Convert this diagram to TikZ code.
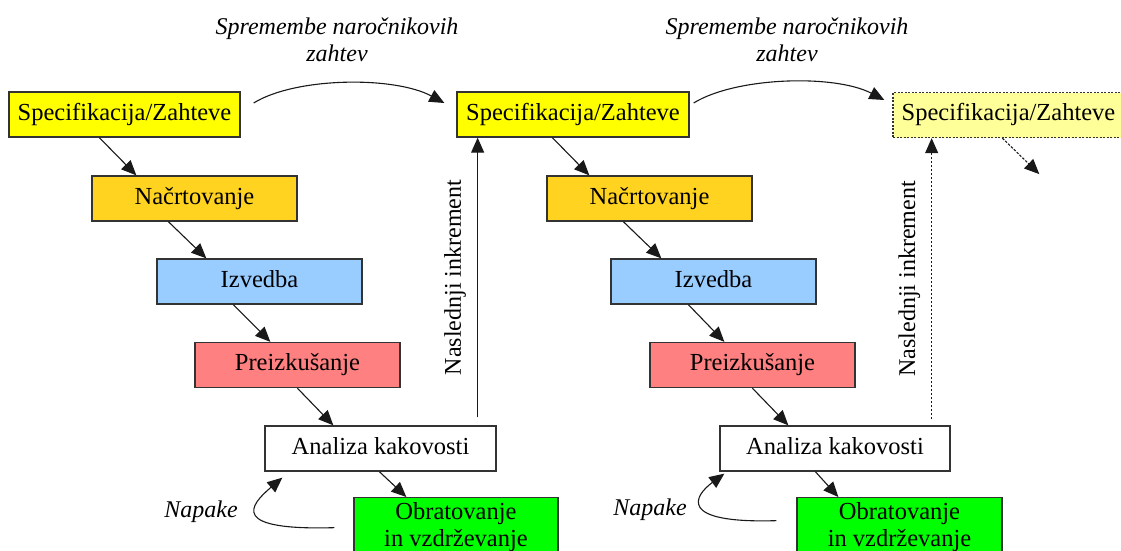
\documentclass[tikz,border=0pt]{standalone}
\usepackage{fontspec}
\setmainfont{Liberation Serif}
\usetikzlibrary{arrows.meta,calc}
\definecolor{boxline}{HTML}{333333}
\definecolor{specY}{HTML}{FFFF00}
\definecolor{specL}{HTML}{FFFF99}
\definecolor{designC}{HTML}{FFD320}
\definecolor{buildC}{HTML}{99CCFF}
\definecolor{testC}{HTML}{FF8080}
\definecolor{runC}{HTML}{00FF00}
\begin{document}
\begin{tikzpicture}[x=1pt,y=-1pt,
  box/.style={draw=boxline, line width=1.3pt, inner sep=0pt,
    font=\fontsize{24.5}{27}\selectfont},
  onebox/.style={box, minimum height=45pt, text height=16pt, text depth=5pt},
  arr/.style={draw=black!90, line width=1.1pt, -{Triangle[length=15pt,width=13pt]}},
  darr/.style={arr, dash pattern=on 2.5pt off 1.5pt},
  lbl/.style={font=\itshape\fontsize{24}{27}\selectfont, align=center},
  vlbl/.style={font=\fontsize{24}{27}\selectfont, sloped, above=11pt, inner sep=0pt}]

\path[use as bounding box, clip] (0,0) rectangle (1121,550);

% first increment
\node[onebox, fill=specY, minimum width=231pt] (spec1) at (124.5,114.5) {Specifikacija/Zahteve};
\node[onebox, fill=designC, minimum width=205pt] (nac1) at (194.5,198.5) {Načrtovanje};
\node[onebox, fill=buildC, minimum width=205pt] (izv1) at (259.5,281.5) {Izvedba};
\node[onebox, fill=testC, minimum width=205pt] (pre1) at (297.5,365) {Preizkušanje};
\node[onebox, fill=white, minimum width=231pt] (ana1) at (380.5,448.5) {Analiza kakovosti};
\node[box, fill=runC, minimum width=204pt, minimum height=58pt, align=center, anchor=north]
  (obr1) at (456,497) {Obratovanje\\in vzdrževanje};

% second increment
\node[onebox, fill=specY, minimum width=232pt] (spec2) at (573,114.5) {Specifikacija/Zahteve};
\node[onebox, fill=designC, minimum width=205pt] (nac2) at (649.5,198.5) {Načrtovanje};
\node[onebox, fill=buildC, minimum width=205pt] (izv2) at (713.5,281.5) {Izvedba};
\node[onebox, fill=testC, minimum width=205pt] (pre2) at (752.5,365) {Preizkušanje};
\node[onebox, fill=white, minimum width=230pt] (ana2) at (835,448.5) {Analiza kakovosti};
\node[box, fill=runC, minimum width=205pt, minimum height=58pt, align=center, anchor=north]
  (obr2) at (899.5,497) {Obratovanje\\in vzdrževanje};

% next increment (outline only)
\node[onebox, fill=specL, minimum width=231pt, dash pattern=on 2pt off 1.5pt] (spec3) at (1008.5,115) {Specifikacija/Zahteve};

% waterfall steps, first increment
\draw[arr] ([xshift=91pt]spec1.south west) -- ([xshift=45pt]nac1.north west);
\draw[arr] ([xshift=77pt]nac1.south west) -- ([xshift=50pt]izv1.north west);
\draw[arr] ([xshift=77pt]izv1.south west) -- ([xshift=76pt]pre1.north west);
\draw[arr] ([xshift=103pt]pre1.south west) -- ([xshift=69pt]ana1.north west);
\draw[arr] ([xshift=115pt]ana1.south west) -- ([xshift=53pt]obr1.north west);

% waterfall steps, second increment
\draw[arr] ([xshift=96pt]spec2.south west) -- ([xshift=43pt]nac2.north west);
\draw[arr] ([xshift=77pt]nac2.south west) -- ([xshift=51pt]izv2.north west);
\draw[arr] ([xshift=78pt]izv2.south west) -- ([xshift=75pt]pre2.north west);
\draw[arr] ([xshift=103pt]pre2.south west) -- ([xshift=69pt]ana2.north west);
\draw[arr] ([xshift=96pt]ana2.south west) -- ([xshift=42pt]obr2.north west);

% continuation out of the third specification
\coordinate (spec3out) at ([shift={(147,36)}]spec3.south west);
\draw[darr] ([xshift=110pt]spec3.south west) -- (spec3out);

% changed customer requirements
\coordinate (chg1s) at ([shift={(13,-11.5)}]spec1.east);
\coordinate (chg1e) at ([shift={(-12,-11.5)}]spec2.west);
\draw[arr] (chg1s) .. controls +(42,-26) and +(-50,-27) .. (chg1e);
\node[lbl] (chg1) at (337,40) {Spremembe naročnikovih\\zahtev};

\coordinate (chg2s) at ([shift={(4,-11.5)}]spec2.east);
\coordinate (chg2e) at ([shift={(-8,-15)}]spec3.west);
\draw[arr] (chg2s) .. controls +(42,-26) and +(-50,-26) .. (chg2e);
\node[lbl] (chg2) at (787,40) {Spremembe naročnikovih\\zahtev};

% next increment
\coordinate (inc1) at ([shift={(-19,-8)}]ana1.north east);
\draw[arr] (inc1) -- node[vlbl] (inc1lbl) {Naslednji inkrement} (inc1 |- spec2.south);
\coordinate (inc2) at ([shift={(-19,-6)}]ana2.north east);
\draw[darr] (inc2) -- node[vlbl] (inc2lbl) {Naslednji inkrement} (inc2 |- spec3.south);

% defects fed back to quality analysis
\coordinate (err1s) at ([shift={(-19,1)}]obr1.west);
\coordinate (err1e) at ([shift={(18,6)}]ana1.south west);
\draw[arr] (err1s) .. controls +(-105,3) and +(-33,28) .. (err1e);
\node[lbl] (err1) at (201,512) {Napake};

\coordinate (err2s) at ([shift={(-20,-6)}]obr2.west);
\coordinate (err2e) at ([shift={(5,2)}]ana2.south west);
\draw[arr] (err2s) .. controls +(-100,3) and +(-30,22) .. (err2e);
\node[lbl] (err2) at (650,510) {Napake};
\end{tikzpicture}
\end{document}
